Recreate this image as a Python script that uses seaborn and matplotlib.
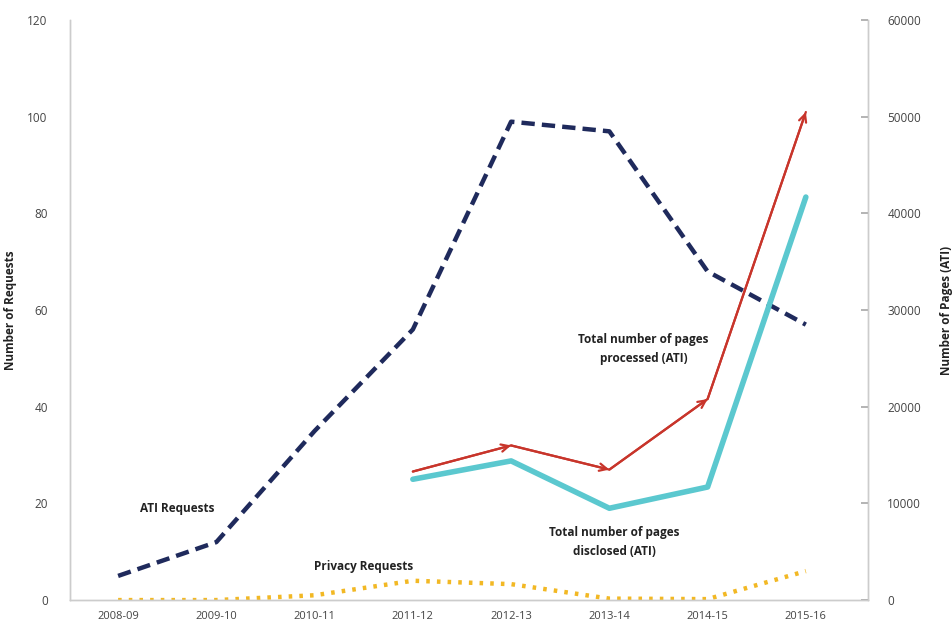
import matplotlib
matplotlib.use("Agg")
import matplotlib.pyplot as plt
import seaborn as sns
import pandas as pd
import numpy as np

years = ["2008-09", "2009-10", "2010-11", "2011-12", "2012-13", "2013-14", "2014-15", "2015-16"]
ati_requests = [5, 12, 35, 56, 99, 97, 68, 57]
privacy_requests = [0, 0, 1, 4, 3.3, 0.3, 0.2, 6]
pages_years = ["2011-12", "2012-13", "2013-14", "2014-15", "2015-16"]
pages_processed = [13300, 16000, 13500, 20800, 50500]
pages_disclosed = [12500, 14400, 9500, 11700, 41700]

sns.set_theme(style="white")
plt.rcParams["font.family"] = ["Open Sans", "DejaVu Sans"]

fig = plt.figure(figsize=(9.52, 6.31), dpi=100)
ax = fig.add_axes([0.0735, 0.049, 0.838, 0.919])
ax2 = ax.twinx()

xi = np.arange(len(years))
px = np.array([years.index(y) for y in pages_years])

df_req = pd.DataFrame({"x": xi, "ati": ati_requests, "priv": privacy_requests})
df_pg = pd.DataFrame({"x": px, "proc": pages_processed, "disc": pages_disclosed})

sns.lineplot(data=df_req, x="x", y="ati", ax=ax, color="#1f2a5c", lw=3.2,
             linestyle=(0, (3, 1.6)))
sns.lineplot(data=df_req, x="x", y="priv", ax=ax, color="#f2b824", lw=3.2,
             linestyle=(0, (0.8, 1.6)))
sns.lineplot(data=df_pg, x="x", y="disc", ax=ax2, color="#5bc8cf", lw=4)
sns.lineplot(data=df_pg, x="x", y="proc", ax=ax2, color="#c8352b", lw=1.6)
for i in range(len(px) - 1):
    ax2.annotate("", xy=(px[i + 1], pages_processed[i + 1]),
                 xytext=(px[i], pages_processed[i]),
                 arrowprops=dict(arrowstyle="->,head_length=0.45,head_width=0.22",
                                 color="#c8352b", lw=1.6, shrinkA=0, shrinkB=0))

ax.set_xlim(-0.49, 7.63)
ax.set_ylim(0, 120)
ax2.set_ylim(0, 60000)
ax.set_xticks(xi)
ax.set_xticklabels(years)
ax.set_yticks(np.arange(0, 121, 20))
ax2.set_yticks(np.arange(0, 60001, 10000))

tick_color = "#444444"
ax.tick_params(axis="x", labelsize=8, colors=tick_color, length=0, pad=8)
ax.tick_params(axis="y", labelsize=8.5, colors=tick_color, length=0, pad=16)
ax2.tick_params(axis="y", labelsize=8.5, colors=tick_color, length=5, direction="in",
                pad=14, color="#aaaaaa")
for a in (ax, ax2):
    a.spines["top"].set_visible(False)
    for s in ("left", "right", "bottom"):
        a.spines[s].set_color("#cccccc")
        a.spines[s].set_linewidth(1)
ax.set_xlabel("")
ax.set_ylabel("Number of Requests", fontsize=8.5, fontweight="bold", color="#222222")
ax2.set_ylabel("Number of Pages (ATI)", fontsize=8.5, fontweight="bold", color="#222222",
               rotation=90)
ax.yaxis.set_label_coords(-0.066, 0.5)
ax2.yaxis.set_label_coords(1.091, 0.5)

txt = dict(fontsize=8.5, fontweight="bold", color="#222222")
ax.text(0.6, 19, "ATI Requests", ha="center", va="center", **txt)
ax.text(2.5, 7, "Privacy Requests", ha="center", va="center", **txt)
ax2.text(5.35, 26000, "Total number of pages\nprocessed (ATI)", ha="center", va="center",
         linespacing=1.6, **txt)
ax2.text(5.05, 6000, "Total number of pages\ndisclosed (ATI)", ha="center", va="center",
         linespacing=1.6, **txt)

ax.grid(False)
ax2.grid(False)
fig.savefig("out.png", dpi=100)
